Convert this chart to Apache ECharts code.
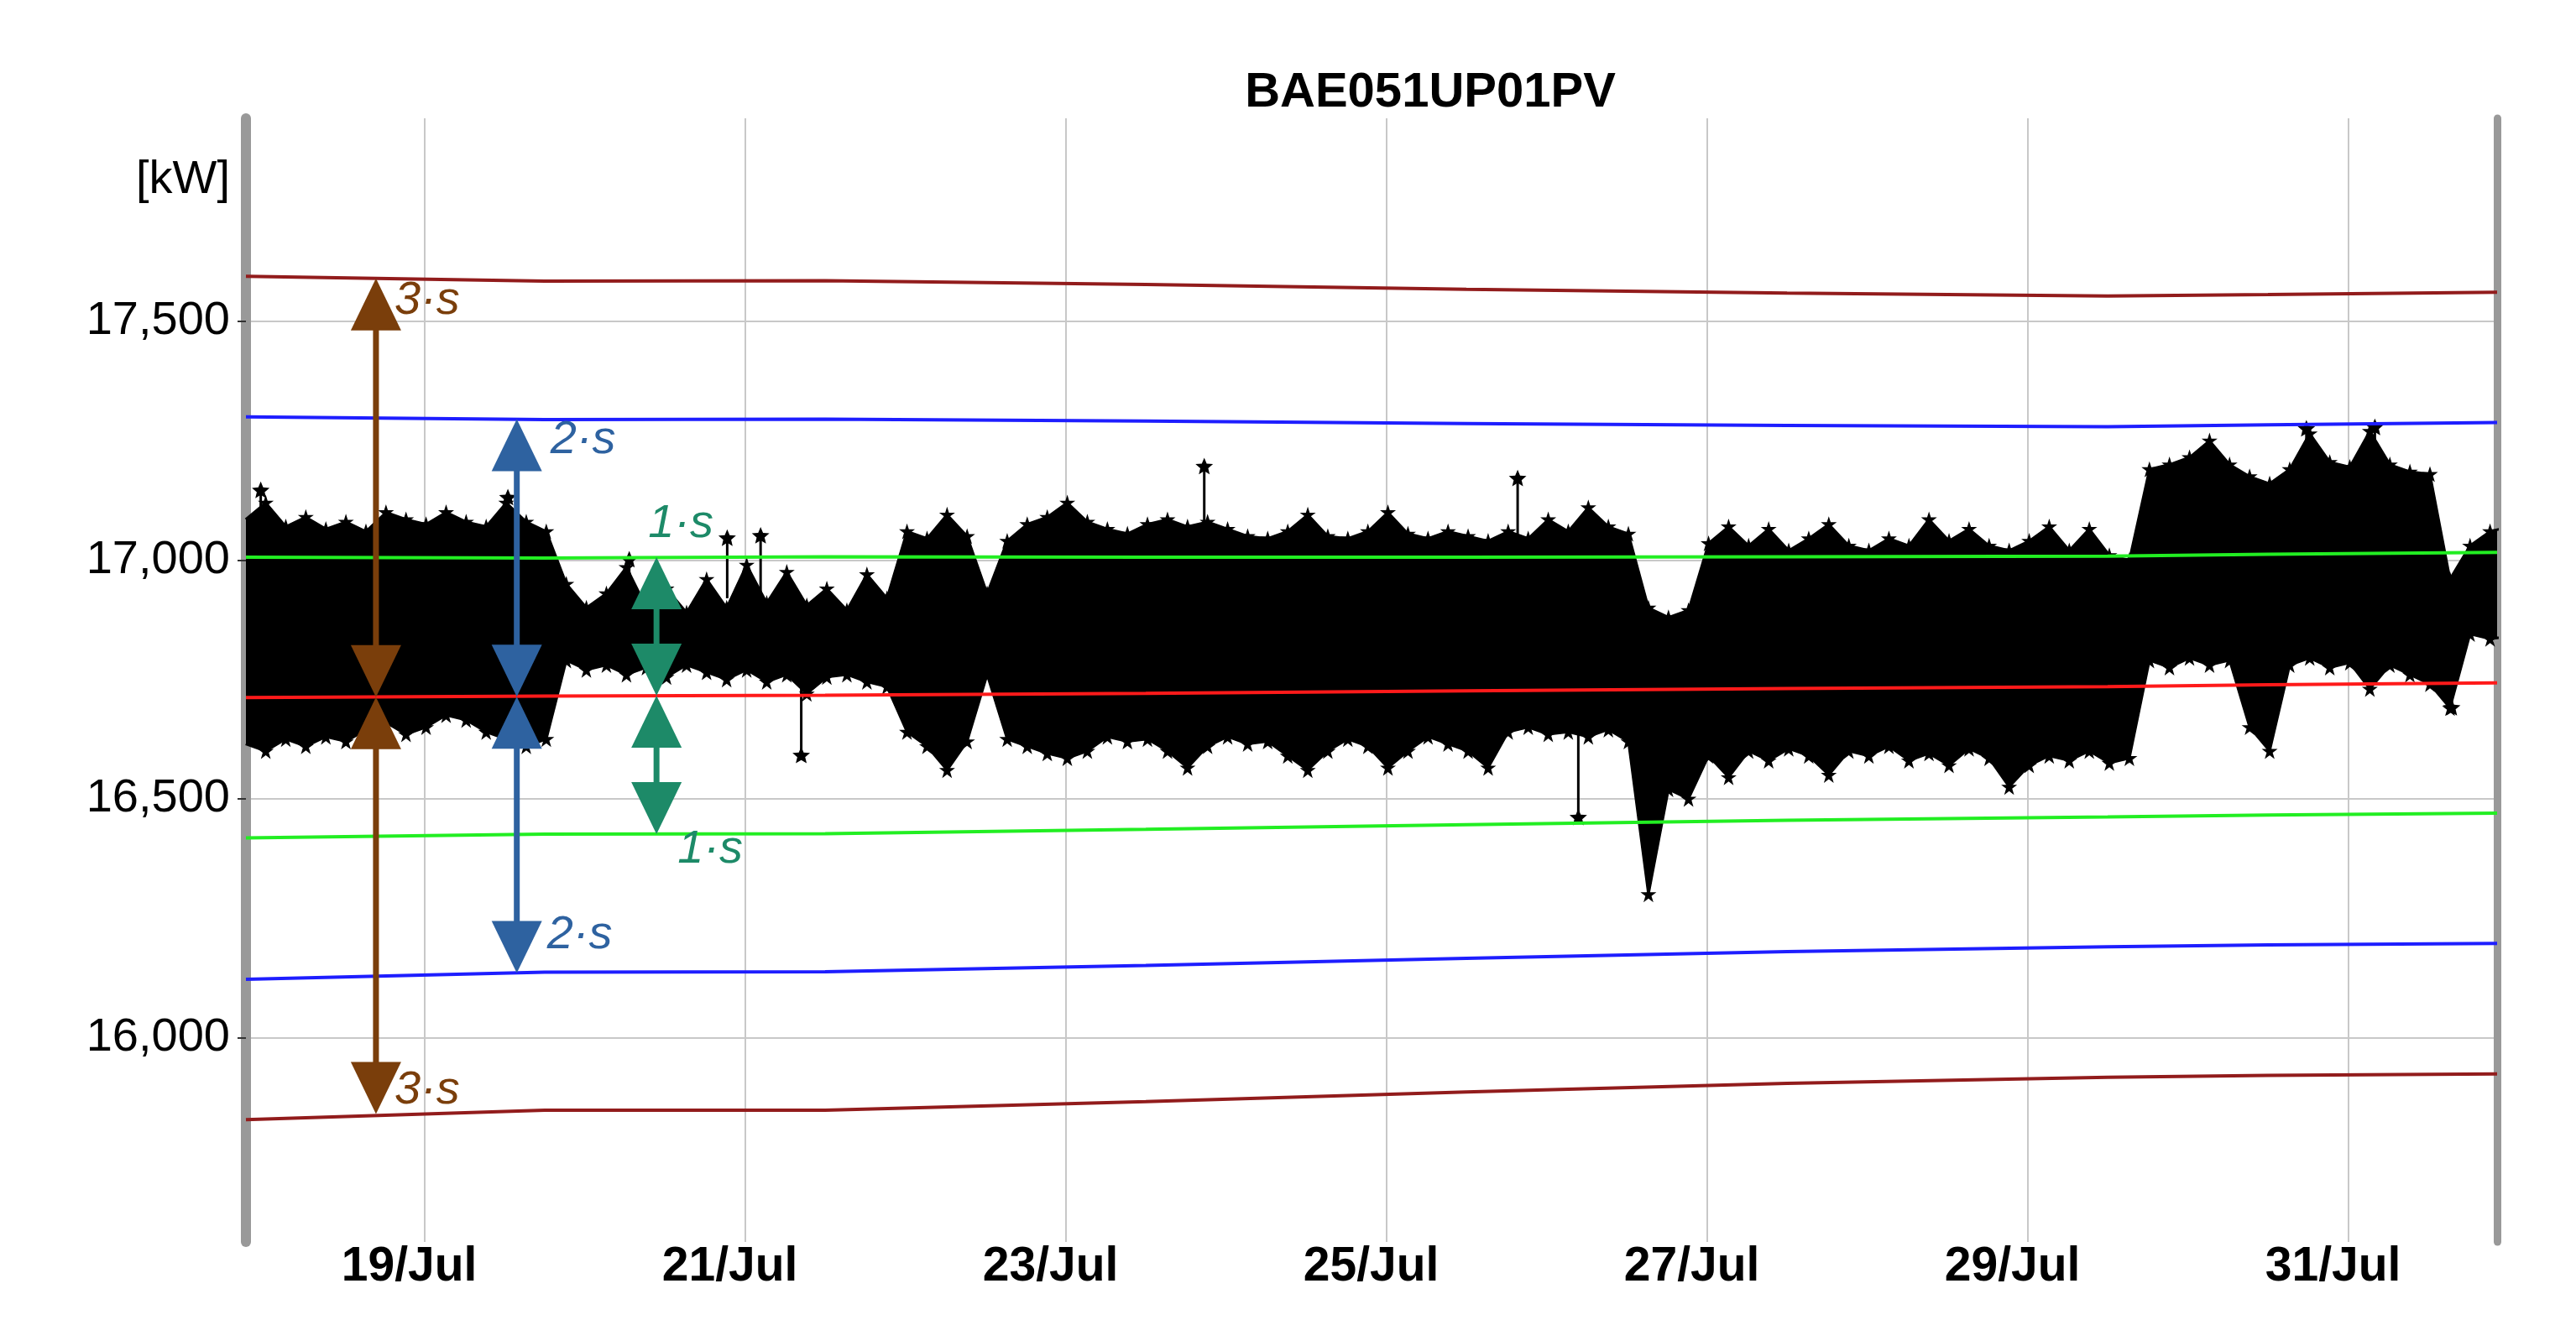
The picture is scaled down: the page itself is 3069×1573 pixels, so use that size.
<!DOCTYPE html>
<html><head><meta charset="utf-8">
<script src="https://cdn.jsdelivr.net/npm/echarts@6/dist/echarts.min.js"></script>
<style>html,body{margin:0;padding:0;background:#fff}#c{width:3069px;height:1573px}</style>
</head><body><div id="c"></div>
<script>
const chartTitle = 'BAE051UP01PV';
const unitLabel = '[kW]';
const xTicks = ['2021-07-19T00:00:00','2021-07-21T00:00:00','2021-07-23T00:00:00','2021-07-25T00:00:00','2021-07-27T00:00:00','2021-07-29T00:00:00','2021-07-31T00:00:00'];
const xTickLabels = ['19/Jul','21/Jul','23/Jul','25/Jul','27/Jul','29/Jul','31/Jul'];
const yTicks = [16000, 16500, 17000, 17500];
const yTickLabels = ['16,000','16,500','17,000','17,500'];
const xRange = ['2021-07-17T21:17:00', '2021-07-31T22:18:00'];
const yRange = [15572, 17925];

// measured signal envelope, one pair every 3 hours from envStart
const envStart = '2021-07-17T21:15:00';
const envStepHours = 3;
const envUpper = [
17085,17120,17070,17090,17065,17080,17060,17100,17085,17075,17100,17080,17070,17120,17080,17060,
16950,16900,16930,16985,16900,16940,16890,16960,16900,16990,16910,16975,16905,16940,16895,16970,16920,
17060,17045,17095,17050,16930,
17040,17075,17090,17120,17080,17065,17055,17075,17085,17070,17080,17065,17050,17045,17060,17095,
17050,17045,17060,17100,17055,17045,17060,17050,17040,17060,17045,17085,17060,17110,17070,17055,
16900,16880,16895,
17035,17070,17030,17065,17020,17045,17075,17030,17020,17045,17030,17085,17040,17065,17030,17020,
17040,17070,17020,17065,17010,17000,
17190,17200,17215,17250,17200,17175,17160,17190,17265,17205,17195,17270,17200,17185,17180,
16960,17030,17060,17070];
const envLower = [
16615,16600,16625,16610,16630,16620,16645,16660,16635,16650,16675,16665,16640,16625,16610,16625,
16790,16770,16780,16760,16775,16755,16780,16765,16750,16770,16745,16760,16720,16755,16760,16745,16735,
16640,16610,16560,16620,16760,
16625,16610,16595,16585,16600,16630,16620,16625,16600,16565,16610,16630,16615,16620,16590,16560,
16600,16625,16610,16565,16600,16630,16615,16600,16565,16640,16650,16635,16640,16630,16645,16620,
16300,16520,16500,
16590,16545,16600,16580,16605,16590,16550,16600,16590,16610,16580,16595,16570,16605,16585,16525,
16570,16590,16580,16600,16575,16585,
16790,16775,16795,16780,16790,16650,16600,16780,16795,16775,16785,16730,16780,16760,16740,
16690,16845,16835,16840];

// isolated outliers (time, value the line leaves from, outlier value)
const spikeTimes = ['2021-07-17T23:30:00','2021-07-19T12:30:00','2021-07-20T06:40:00','2021-07-20T21:20:00','2021-07-21T02:20:00','2021-07-21T08:25:00','2021-07-23T20:45:00','2021-07-25T19:40:00','2021-07-26T04:45:00','2021-07-30T17:45:00','2021-07-31T04:00:00','2021-07-31T15:30:00'];
const spikeBase = [17085,17080,16920,16920,16930,16745,17075,17055,16640,17200,17200,16760];
const spikePeak = [17145,17130,17000,17045,17050,16590,17195,17170,16460,17274,17277,16690];

// statistics lines
const statTimes = ['2021-07-17T21:17:00','2021-07-19T18:00:00','2021-07-21T12:00:00','2021-07-23T12:00:00','2021-07-25T12:00:00','2021-07-27T12:00:00','2021-07-29T12:00:00','2021-07-30T12:00:00','2021-07-31T22:18:00'];
const meanLine   = [16712,16715,16717,16721,16726,16731,16735,16739,16743];
const upper1s    = [17006,17004,17007,17006,17006,17007,17008,17012,17016];
const lower1s    = [16418,16426,16427,16436,16446,16455,16462,16466,16470];
const upper2s    = [17300,17294,17295,17291,17286,17282,17279,17283,17288];
const lower2s    = [16122,16137,16138,16151,16166,16180,16190,16194,16197];
const upper3s    = [17594,17584,17585,17577,17567,17559,17553,17556,17561];
const lower3s    = [15828,15848,15848,15866,15886,15904,15917,15921,15924];

// sigma arrows
const arrowTimes = ['2021-07-18T16:45:00','2021-07-19T13:50:00','2021-07-20T10:45:00'];
const arrowMean  = [16713, 16714, 16716];
const arrowUp    = [17590, 17295, 17006];
const arrowDown  = [15840, 16135, 16426];
const arrowLabels = ['3·s', '2·s', '1·s'];

const FONT = '"Liberation Sans", Arial, sans-serif';
const ts = s => new Date(s).getTime();
const xTickValues = xTicks.map(ts);
const t0 = ts(envStart);
const envTimes = envUpper.map((_, i) => t0 + i * envStepHours * 3600 * 1000);
const starPath = 'path://M50,0 L61.8,35.4 L100,35.4 L69.1,57.3 L80.9,95.1 L50,72.7 L19.1,95.1 L30.9,57.3 L0,35.4 L38.2,35.4 Z';

const arrowColors = ['#7a3e0b', '#2e62a0', '#1d8a68'];
const arrowLabelOffsets = [[22, 27, 22, -28], [40, 25, 36, -45], [-10, -40, 25, 18]];

function statSeries(name, vals, color) {
  return {
    name, type: 'line', z: 4, silent: true, showSymbol: false, symbol: 'none',
    data: statTimes.map((t, i) => [ts(t), vals[i]]),
    lineStyle: { color, width: 4 }
  };
}
function envSeries(name, vals) {
  return {
    name, type: 'line', z: 3, silent: true,
    data: envTimes.map((t, i) => [t, vals[i]]),
    symbol: starPath, symbolSize: 19, showSymbol: true, showAllSymbol: true,
    itemStyle: { color: '#000' }, lineStyle: { color: '#000', width: 3 }
  };
}
function starPoints(cx, cy, R) {
  const pts = [];
  for (let k = 0; k < 10; k++) {
    const a = -Math.PI / 2 + k * Math.PI / 5;
    const r = k % 2 === 0 ? R : R * 0.45;
    pts.push([cx + r * Math.cos(a), cy + r * Math.sin(a)]);
  }
  return pts;
}

// band segments between consecutive envelope samples
const bandData = envTimes.slice(0, -1).map((t, i) => [t, envUpper[i], envLower[i], envTimes[i + 1], envUpper[i + 1], envLower[i + 1]]);

const chart = echarts.init(document.getElementById('c'), null, { renderer: 'canvas' });
chart.setOption({
  animation: false,
  backgroundColor: '#ffffff',
  grid: { left: 293, right: 94, top: 141, bottom: 93, containLabel: false },
  graphic: [
    { type: 'text', x: 1704, y: 111, z: 100, style: { text: chartTitle, fill: '#000', fontSize: 58, fontWeight: 'bold', fontFamily: FONT, align: 'center', verticalAlign: 'middle' } },
    { type: 'text', x: 274, y: 215, z: 100, style: { text: unitLabel, fill: '#000', fontSize: 56, fontFamily: FONT, align: 'right', verticalAlign: 'middle' } }
  ],
  xAxis: {
    type: 'value', min: ts(xRange[0]), max: ts(xRange[1]),
    axisLine: { show: false },
    axisTick: { show: false, customValues: xTickValues },
    axisLabel: {
      customValues: xTickValues,
      formatter: v => { const k = xTickValues.findIndex(x => Math.abs(x - v) < 60000); return k >= 0 ? xTickLabels[k] : ''; },
      fontSize: 57, fontWeight: 'bold', fontFamily: FONT, color: '#000', margin: 2, padding: [0, 36, 0, 0]
    },
    splitLine: { show: true, lineStyle: { color: '#c8c8c8', width: 2 } }
  },
  yAxis: [{
    type: 'value', min: yRange[0], max: yRange[1],
    axisLine: { show: true, onZero: false, lineStyle: { color: '#999999', width: 12 } },
    axisTick: { show: true, customValues: yTicks, length: 10, lineStyle: { color: '#333', width: 2 } },
    axisLabel: {
      customValues: yTicks,
      formatter: v => { const k = yTicks.indexOf(v); return k >= 0 ? yTickLabels[k] : ''; },
      fontSize: 56, fontFamily: FONT, color: '#000', margin: 19
    },
    splitLine: { show: true, lineStyle: { color: '#c8c8c8', width: 2 } }
  }, {
    type: 'value', position: 'right', min: yRange[0], max: yRange[1],
    axisLine: { show: true, onZero: false, lineStyle: { color: '#999999', width: 9 } },
    axisTick: { show: false }, axisLabel: { show: false }, splitLine: { show: false }
  }],
  series: [
    {
      name: 'band', type: 'custom', z: 2, silent: true, clip: true,
      data: bandData,
      encode: { x: [0, 3], y: [1, 2, 4, 5] },
      renderItem: (params, api) => {
        const a = api.coord([api.value(0), api.value(1)]);
        const b = api.coord([api.value(3), api.value(4)]);
        const c = api.coord([api.value(3), api.value(5)]);
        const d = api.coord([api.value(0), api.value(2)]);
        return { type: 'polygon', shape: { points: [a, b, c, d] }, style: { fill: '#000', stroke: '#000', lineWidth: 1.5 } };
      }
    },
    envSeries('upper', envUpper),
    envSeries('lower', envLower),
    {
      name: 'spikes', type: 'custom', z: 3, silent: true,
      data: spikeTimes.map((t, i) => [ts(t), spikeBase[i], spikePeak[i]]),
      encode: { x: 0, y: [1, 2] },
      renderItem: (params, api) => {
        const t = api.value(0);
        const a = api.coord([t, api.value(1)]);
        const b = api.coord([t, api.value(2)]);
        return { type: 'group', children: [
          { type: 'line', shape: { x1: a[0], y1: a[1], x2: b[0], y2: b[1] }, style: { stroke: '#000', lineWidth: 3 } },
          { type: 'polygon', shape: { points: starPoints(b[0], b[1], 11) }, style: { fill: '#000' } }
        ] };
      }
    },
    statSeries('+3s', upper3s, '#921c1c'),
    statSeries('-3s', lower3s, '#921c1c'),
    statSeries('+2s', upper2s, '#1e1eff'),
    statSeries('-2s', lower2s, '#1e1eff'),
    statSeries('+1s', upper1s, '#22ee22'),
    statSeries('-1s', lower1s, '#22ee22'),
    statSeries('mean', meanLine, '#ff1a1a'),
    {
      name: 'arrows', type: 'custom', z: 10, silent: true,
      data: arrowTimes.map((t, i) => [ts(t), arrowMean[i], arrowUp[i], arrowDown[i]]),
      encode: { x: 0, y: [1, 2, 3] },
      renderItem: (params, api) => {
        const i = params.dataIndex;
        const t = api.value(0);
        const pm = api.coord([t, api.value(1)]);
        const pu = api.coord([t, api.value(2)]);
        const pd = api.coord([t, api.value(3)]);
        const x = pm[0], hw = 30, hh = 62, col = arrowColors[i], o = arrowLabelOffsets[i];
        const txt = (dx, y) => ({ type: 'text', x: x + dx, y, style: { text: arrowLabels[i], fill: col, fontSize: 56, fontStyle: 'italic', fontFamily: FONT, align: 'left', verticalAlign: 'middle' } });
        return { type: 'group', children: [
          { type: 'line', shape: { x1: x, y1: pu[1] + hh - 2, x2: x, y2: pm[1] - hh + 2 }, style: { stroke: col, lineWidth: 7 } },
          { type: 'polygon', shape: { points: [[x, pu[1]], [x - hw, pu[1] + hh], [x + hw, pu[1] + hh]] }, style: { fill: col } },
          { type: 'polygon', shape: { points: [[x, pm[1]], [x - hw, pm[1] - hh], [x + hw, pm[1] - hh]] }, style: { fill: col } },
          { type: 'line', shape: { x1: x, y1: pm[1] + hh - 2, x2: x, y2: pd[1] - hh + 2 }, style: { stroke: col, lineWidth: 7 } },
          { type: 'polygon', shape: { points: [[x, pm[1]], [x - hw, pm[1] + hh], [x + hw, pm[1] + hh]] }, style: { fill: col } },
          { type: 'polygon', shape: { points: [[x, pd[1]], [x - hw, pd[1] - hh], [x + hw, pd[1] - hh]] }, style: { fill: col } },
          txt(o[0], pu[1] + o[1]),
          txt(o[2], pd[1] + o[3])
        ] };
      }
    }
  ]
});
</script>
</body></html>
